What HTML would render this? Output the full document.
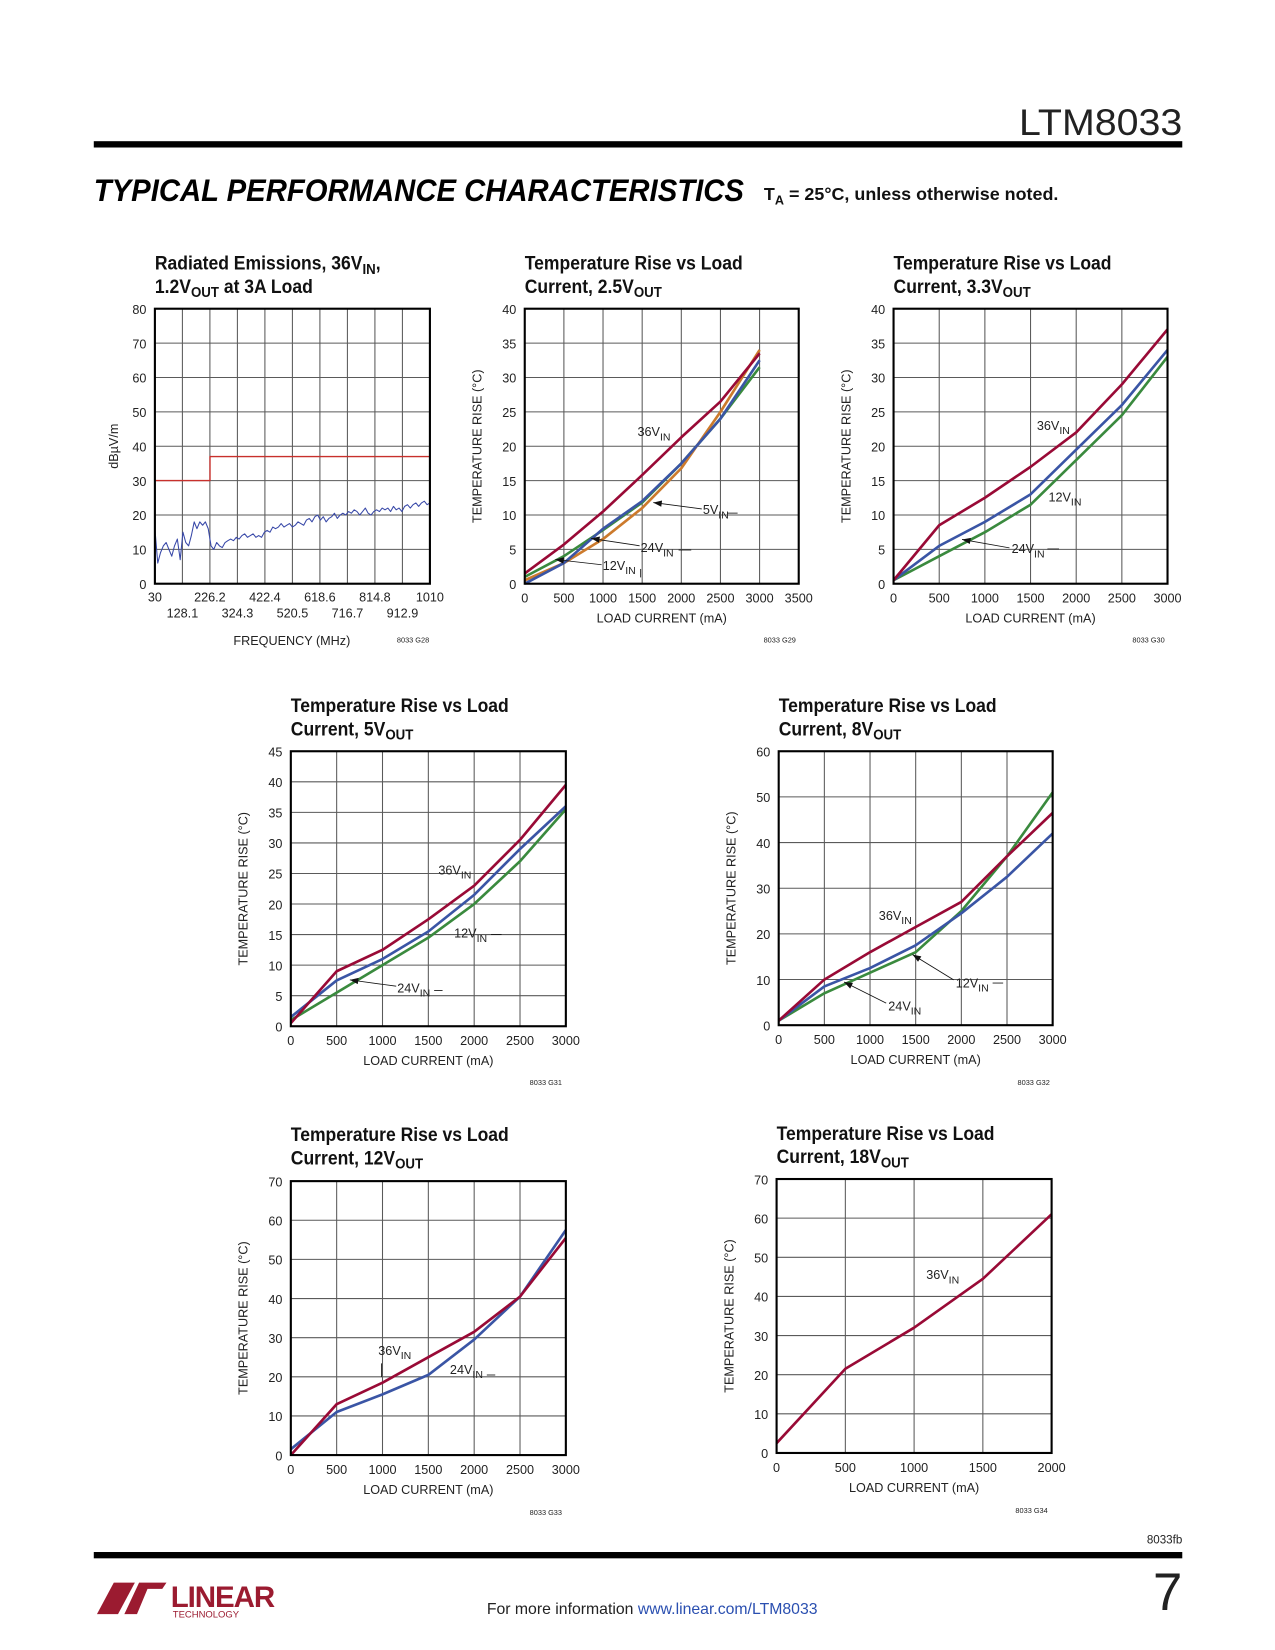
<!DOCTYPE html>
<html><head><meta charset="utf-8"><style>
html,body{margin:0;padding:0;background:#fff;}
svg{display:block;}
text{font-family:"Liberation Sans Narrow","Liberation Sans",sans-serif;fill:#222;}
.tk{font-size:12px;}
.ttl{font-size:18.5px;font-weight:bold;fill:#111;}
.code{font-size:7px;}
</style></head><body>
<svg id="pg" width="1275" height="1650" viewBox="0 0 1210 1566" preserveAspectRatio="none" xmlns="http://www.w3.org/2000/svg">
<text x="1122" y="128" text-anchor="end" style="font-family:'Liberation Sans',sans-serif;font-size:35px;fill:#222" textLength="155" lengthAdjust="spacingAndGlyphs">LTM8033</text>
<rect x="89" y="134" width="1033" height="6" fill="#000"/>
<text x="89" y="191" textLength="617" lengthAdjust="spacingAndGlyphs" style="font-family:'Liberation Sans',sans-serif;font-size:30px;font-weight:bold;font-style:italic;fill:#000">TYPICAL PERFORMANCE CHARACTERISTICS</text>
<text x="725" y="190" style="font-size:17px;font-weight:bold;fill:#111">T<tspan dy="4" font-size="12">A</tspan><tspan dy="-4"> = 25°C, unless otherwise noted.</tspan></text>
<text x="1122" y="1465" text-anchor="end" style="font-size:11px">8033fb</text>
<rect x="89" y="1473" width="1033" height="6" fill="#000"/>
<g>
<path d="M92 1532 L108 1502 L128 1502 L112 1532 Z" fill="#9b1b30"/>
<path d="M118 1532 L132 1502 L158 1502 L154 1508 L140 1508 L130 1532 Z" fill="#9b1b30"/>
<text x="162" y="1525" style="font-family:'Liberation Sans',sans-serif;font-size:28px;font-weight:bold;fill:#9b1b30;letter-spacing:-1px">LINEAR</text>
<text x="164" y="1535" style="font-family:'Liberation Sans',sans-serif;font-size:9px;fill:#9b1b30">TECHNOLOGY</text>
</g>
<text x="462" y="1532" style="font-size:15px">For more information <tspan fill="#2a4fb0">www.linear.com/LTM8033</tspan></text>
<text x="1122" y="1528" text-anchor="end" style="font-family:'Liberation Sans',sans-serif;font-size:50px;fill:#222">7</text>
</svg>
<script>
// ---------- data ----------
const reStart = 30, reStep = 10;
const reLevels = [16,6,9,11,12,10,8,11,13,7,15,12,11,14,18,16,18,17,18,16,11,10,12,11,10.5,12,12.5,13,12.5,13.5,13,14,14.5,13.5,14,14.5,13.5,14,13.5,15,15.5,15,16.5,16,16.5,17.5,16.5,17,17.5,16.5,17,18,17.5,17,18.5,19,18,19.5,20,18.5,19.5,18,19,19.5,20.5,19,20,20.5,20,21,20.5,21.5,21,20,21,22,20.5,20,21,21.5,21,22,21.5,22,21,22.5,21.5,22,21,22.5,23,22,23,23.5,22.5,23.5,24,23,23.5];
const reLimitX = [30,226.2,226.2,1010];
const reLimitY = [30,30,37,37];
const reXTicksTop = ["30","226.2","422.4","618.6","814.8","1010"];
const reXTicksBot = ["128.1","324.3","520.5","716.7","912.9"];

const loadX = [0,500,1000,1500,2000,2500,3000];
const c2_36 = [1.5,5.7,10.5,15.8,21.3,26.5,33.5];
const c2_5 = [0.5,3,6.5,11,16.8,25,34];
const c2_24 = [1,4,7.8,11.8,17.5,24,31.5];
const c2_12 = [0,3,8,12,17.5,24,32.5];

const c3_36 = [0.5,8.5,12.5,17,22,29,37];
const c3_12 = [0.5,5.5,9,13,19.5,26,34];
const c3_24 = [0.5,4,7.5,11.5,18,24.5,33];

const c4_36 = [0.5,9,12.5,17.5,23,30.5,39.5];
const c4_12 = [1.5,7.5,11,15.5,21.5,29,36];
const c4_24 = [1,5.5,10,14.5,20,27,35.5];

const c5_36 = [1,10,16,21.5,27,37,46.5];
const c5_12 = [1,8.5,12.5,17.5,24.5,32.5,42];
const c5_24 = [1,7,11.5,16,25,37,51];

const c6_36 = [0,13,18.5,25,31.5,40.5,55.5];
const c6_24 = [1.5,11,15.5,20.5,29.5,40.5,57.5];

const loadX7 = [0,500,1000,1500,2000];
const c7_36 = [2.5,21.5,32,44.5,61];

// ---------- drawing ----------
const NS="http://www.w3.org/2000/svg";
const pg=document.getElementById('pg');
const RED="#990a36",BLUE="#3a55a5",GREEN="#3a8a3e",ORANGE="#cc7a2c";
function el(tag,attrs,parent){const e=document.createElementNS(NS,tag);for(const k in attrs)e.setAttribute(k,attrs[k]);(parent||pg).appendChild(e);return e;}
function txt(x,y,s,cls,anchor,parent){const t=el('text',{x:x,y:y,class:cls||'tk','text-anchor':anchor||'start'},parent);t.textContent=s;return t;}
function sub(x,y,main,sb,parent,anchor,size){const t=el('text',{x:x,y:y,class:'tk','text-anchor':anchor||'start'},parent);if(size)t.style.fontSize=size+'px';t.appendChild(document.createTextNode(main));const s=document.createElementNS(NS,'tspan');s.setAttribute('dy','4');s.setAttribute('font-size',size?size*0.8:10);s.textContent=sb;t.appendChild(s);return t;}
function squeeze(t,x){t.setAttribute('transform',`translate(${x},0) scale(0.9,1) translate(${-x},0)`);}

function chart(c){
  const g=el('g',{});
  
  
  const sx=v=>c.x0+(v-c.xmin)/(c.xmax-c.xmin)*(c.x1-c.x0);
  const sy=v=>c.y1-(v-c.ymin)/(c.ymax-c.ymin)*(c.y1-c.y0);
  const t1=txt(c.x0,c.ty,c.title1,'ttl','start',g);
  
  
  squeeze(t1,c.x0);
  const t2=el('text',{x:c.x0,y:c.ty+22,class:'ttl'},g);
  
  
  squeeze(t2,c.x0);
  t2.appendChild(document.createTextNode(c.t2a));
  const ts=document.createElementNS(NS,'tspan');ts.setAttribute('dy','4');ts.setAttribute('font-size','14');ts.textContent=c.t2b;t2.appendChild(ts);
  if(c.t2c){const tc=document.createElementNS(NS,'tspan');tc.setAttribute('dy','-4');tc.textContent=c.t2c;t2.appendChild(tc);}
  const grid=el('g',{stroke:'#5a5a5a','stroke-width':1},g);
  
  
  for(let v=c.xmin+c.xstep;v<c.xmax-1e-6;v+=c.xstep){el('line',{x1:sx(v),x2:sx(v),y1:c.y0,y2:c.y1},grid);}
  for(let v=c.ymin+c.ystep;v<c.ymax-1e-6;v+=c.ystep){el('line',{x1:c.x0,x2:c.x1,y1:sy(v),y2:sy(v)},grid);}
  for(let v=c.ymin;v<=c.ymax+1e-6;v+=c.ystep){const l=txt(c.x0-8,sy(v)+5,String(v),'tk','end',g);
    
    }
  if(c.xlabels){c.xlabels.forEach((s,i)=>{const l=txt(sx(c.xmin+i*c.xstep),c.y1+18,s,'tk','middle',g);
    
    });}
  if(c.xtitle){const a=txt((c.x0+c.x1)/2,c.y1+37,c.xtitle,'tk','middle',g);
    
    }
  const yt=el('text',{x:0,y:0,class:'tk','text-anchor':'middle',transform:`translate(${c.ylx},${(c.y0+c.y1)/2}) rotate(-90)`},g);
  yt.textContent=c.ytitle;
  
  
  c.series.forEach(s=>{
    const d=s.y.map((v,i)=>(i?'L':'M')+sx(s.x[i]).toFixed(1)+' '+sy(v).toFixed(1)).join(' ');
    const p=el('path',{d:d,fill:'none',stroke:s.color,'stroke-width':s.w||2.5,'stroke-linejoin':'round'},g);
    
    
  });
  const f=el('rect',{x:c.x0,y:c.y0,width:c.x1-c.x0,height:c.y1-c.y0,fill:'none',stroke:'#000','stroke-width':2},g);
  
  
  const cd=txt(c.codeX,c.codeY,c.code,'code','middle',g);
  
  
  return {g,sx,sy,t1};
}
function line(pts,parent,arrow){const d='M'+pts.map(p=>p.join(' ')).join(' L');el('path',{d:d,fill:'none',stroke:'#111','stroke-width':0.8},parent);
  if(arrow){const [a,b]=[pts[pts.length-2],pts[pts.length-1]];const ang=Math.atan2(b[1]-a[1],b[0]-a[0]);const L=8,W=3;
    const p1=[b[0]-L*Math.cos(ang)+W*Math.sin(ang),b[1]-L*Math.sin(ang)-W*Math.cos(ang)];const p2=[b[0]-L*Math.cos(ang)-W*Math.sin(ang),b[1]-L*Math.sin(ang)+W*Math.cos(ang)];
    el('path',{d:`M${b[0]} ${b[1]} L${p1[0]} ${p1[1]} L${p2[0]} ${p2[1]} Z`,fill:'#111'},parent);}}
function label(x,y,m,s,parent,name){const t=sub(x,y,m,s,parent);}

// chart 1
const reX=reLevels.map((_,i)=>reStart+i*reStep);
const c1=chart({name:'radiated-emissions-chart',x0:147,x1:408,y0:293,y1:554,xmin:30,xmax:1010,xstep:98,ymin:0,ymax:80,ystep:10,
  title1:'Radiated Emissions, 36V',t2a:'1.2V',t2b:'OUT',t2c:' at 3A Load',ty:256,ytitle:'dBµV/m',ylx:112,
  series:[{name:'emission-limit-line',x:reLimitX,y:reLimitY,color:'#c8302c',w:1.3},{name:'measured-emissions',x:reX,y:reLevels,color:'#3848a8',w:1}],
  code:'8033 G28',codeX:392,codeY:610});
{const g=c1.g;
 const tt=c1.t1;const s1=document.createElementNS(NS,'tspan');s1.setAttribute('dy','4');s1.setAttribute('font-size','14');s1.textContent='IN';tt.appendChild(s1);const s2=document.createElementNS(NS,'tspan');s2.setAttribute('dy','-4');s2.textContent=',';tt.appendChild(s2);
 reXTicksTop.forEach((s,i)=>{const l=txt(c1.sx(30+i*196),571,s,'tk','middle',g);});
 reXTicksBot.forEach((s,i)=>{const l=txt(c1.sx(128.1+i*196),586,s,'tk','middle',g);});
 const a=txt(277,612,'FREQUENCY (MHz)','tk','middle',g);
}

// chart 2
const c2=chart({name:'temp-rise-2v5-chart',x0:498,x1:758,y0:293,y1:554,xmin:0,xmax:3500,xstep:500,ymin:0,ymax:40,ystep:5,
  title1:'Temperature Rise vs Load',t2a:'Current, 2.5V',t2b:'OUT',ty:256,ytitle:'TEMPERATURE RISE (°C)',ylx:457,
  xlabels:['0','500','1000','1500','2000','2500','3000','3500'],xtitle:'LOAD CURRENT (mA)',
  series:[{name:'series-24vin',x:loadX,y:c2_24,color:GREEN},{name:'series-5vin',x:loadX,y:c2_5,color:ORANGE},{name:'series-12vin',x:loadX,y:c2_12,color:BLUE},{name:'series-36vin',x:loadX,y:c2_36,color:RED}],
  code:'8033 G29',codeX:740,codeY:610});
label(605,414,'36V','IN',c2.g,'label-36vin');
label(667,488,'5V','IN',c2.g,'label-5vin');line([[700,487],[690,487]],c2.g);line([[666,483],[620,477]],c2.g,true);
label(608,524,'24V','IN',c2.g,'label-24vin');line([[644,522],[656,522]],c2.g);line([[607,518],[561,511]],c2.g,true);
label(572,541,'12V','IN',c2.g,'label-12vin');line([[571,536],[527,531]],c2.g,true);line([[608,540],[608,548]],c2.g);

// chart 3
const c3=chart({name:'temp-rise-3v3-chart',x0:848,x1:1108,y0:293,y1:554,xmin:0,xmax:3000,xstep:500,ymin:0,ymax:40,ystep:5,
  title1:'Temperature Rise vs Load',t2a:'Current, 3.3V',t2b:'OUT',ty:256,ytitle:'TEMPERATURE RISE (°C)',ylx:807,
  xlabels:['0','500','1000','1500','2000','2500','3000'],xtitle:'LOAD CURRENT (mA)',
  series:[{name:'series-24vin',x:loadX,y:c3_24,color:GREEN},{name:'series-12vin',x:loadX,y:c3_12,color:BLUE},{name:'series-36vin',x:loadX,y:c3_36,color:RED}],
  code:'8033 G30',codeX:1090,codeY:610});
label(984,408,'36V','IN',c3.g,'label-36vin');
label(995,476,'12V','IN',c3.g,'label-12vin');
label(960,525,'24V','IN',c3.g,'label-24vin');line([[958,520],[913,512]],c3.g,true);line([[994,521],[1005,521]],c3.g);

// chart 4
const c4=chart({name:'temp-rise-5v-chart',x0:276,x1:537,y0:713,y1:974,xmin:0,xmax:3000,xstep:500,ymin:0,ymax:45,ystep:5,
  title1:'Temperature Rise vs Load',t2a:'Current, 5V',t2b:'OUT',ty:676,ytitle:'TEMPERATURE RISE (°C)',ylx:235,
  xlabels:['0','500','1000','1500','2000','2500','3000'],xtitle:'LOAD CURRENT (mA)',
  series:[{name:'series-24vin',x:loadX,y:c4_24,color:GREEN},{name:'series-12vin',x:loadX,y:c4_12,color:BLUE},{name:'series-36vin',x:loadX,y:c4_36,color:RED}],
  code:'8033 G31',codeX:518,codeY:1030});
label(416,830,'36V','IN',c4.g,'label-36vin');
label(431,890,'12V','IN',c4.g,'label-12vin');line([[466,887],[476,887]],c4.g);
label(377,942,'24V','IN',c4.g,'label-24vin');line([[376,936],[332,930]],c4.g,true);line([[412,940],[420,940]],c4.g);

// chart 5
const c5=chart({name:'temp-rise-8v-chart',x0:739,x1:999,y0:713,y1:973,xmin:0,xmax:3000,xstep:500,ymin:0,ymax:60,ystep:10,
  title1:'Temperature Rise vs Load',t2a:'Current, 8V',t2b:'OUT',ty:676,ytitle:'TEMPERATURE RISE (°C)',ylx:698,
  xlabels:['0','500','1000','1500','2000','2500','3000'],xtitle:'LOAD CURRENT (mA)',
  series:[{name:'series-24vin',x:loadX,y:c5_24,color:GREEN},{name:'series-12vin',x:loadX,y:c5_12,color:BLUE},{name:'series-36vin',x:loadX,y:c5_36,color:RED}],
  code:'8033 G32',codeX:981,codeY:1030});
label(834,873,'36V','IN',c5.g,'label-36vin');
label(907,937,'12V','IN',c5.g,'label-12vin');line([[905,930],[866,906]],c5.g,true);line([[942,933],[952,933]],c5.g);
label(843,959,'24V','IN',c5.g,'label-24vin');line([[841,952],[801,932]],c5.g,true);

// chart 6
const c6=chart({name:'temp-rise-12v-chart',x0:276,x1:537,y0:1121,y1:1381,xmin:0,xmax:3000,xstep:500,ymin:0,ymax:70,ystep:10,
  title1:'Temperature Rise vs Load',t2a:'Current, 12V',t2b:'OUT',ty:1083,ytitle:'TEMPERATURE RISE (°C)',ylx:235,
  xlabels:['0','500','1000','1500','2000','2500','3000'],xtitle:'LOAD CURRENT (mA)',
  series:[{name:'series-24vin',x:loadX,y:c6_24,color:BLUE},{name:'series-36vin',x:loadX,y:c6_36,color:RED}],
  code:'8033 G33',codeX:518,codeY:1438});
label(359,1286,'36V','IN',c6.g,'label-36vin');line([[362,1294],[362,1307]],c6.g);
label(427,1304,'24V','IN',c6.g,'label-24vin');line([[462,1305],[470,1305]],c6.g);

// chart 7
const c7=chart({name:'temp-rise-18v-chart',x0:737,x1:998,y0:1119,y1:1379,xmin:0,xmax:2000,xstep:500,ymin:0,ymax:70,ystep:10,
  title1:'Temperature Rise vs Load',t2a:'Current, 18V',t2b:'OUT',ty:1082,ytitle:'TEMPERATURE RISE (°C)',ylx:696,
  xlabels:['0','500','1000','1500','2000'],xtitle:'LOAD CURRENT (mA)',
  series:[{name:'series-36vin',x:loadX7,y:c7_36,color:RED}],
  code:'8033 G34',codeX:979,codeY:1436});
label(879,1214,'36V','IN',c7.g,'label-36vin');
</script>
</body></html>
